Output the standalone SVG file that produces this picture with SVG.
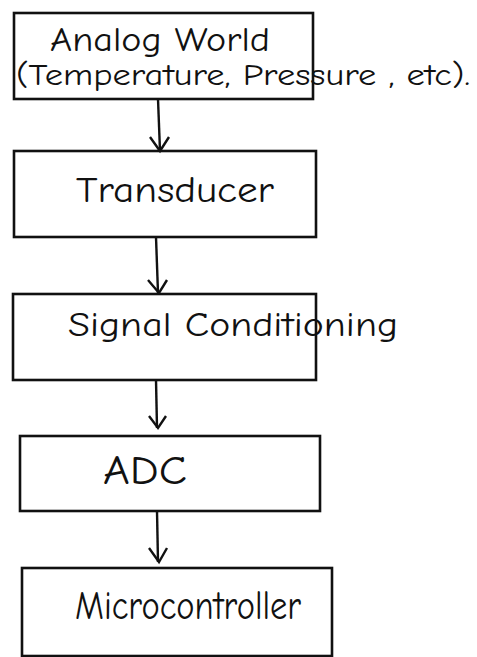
<svg xmlns="http://www.w3.org/2000/svg" width="477" height="657" viewBox="0 0 477 657">
<style>
.box{fill:none;stroke:#111;stroke-width:2.6}
.lbl{font-family:"Comic Neue","Liberation Sans",sans-serif;fill:#111}
.conn line{stroke:#111;stroke-width:2.4}
.conn path{fill:none;stroke:#111;stroke-width:2.4;stroke-linejoin:miter}
</style>
<rect width="477" height="657" fill="#ffffff"/>
<g id="analog-world">
<rect class="box" x="14" y="13" width="299" height="86"/>
<text class="lbl" x="50" y="51" font-size="34" textLength="220" lengthAdjust="spacingAndGlyphs">Analog  World</text>
<text class="lbl" x="16" y="85" font-size="30" textLength="454" lengthAdjust="spacingAndGlyphs">(Temperature, Pressure , etc).</text>
</g>
<g id="transducer">
<rect class="box" x="14" y="151" width="302" height="86"/>
<text class="lbl" x="76" y="202" font-size="36" textLength="198" lengthAdjust="spacingAndGlyphs">Transducer</text>
</g>
<g id="signal-conditioning">
<rect class="box" x="13" y="294" width="303" height="86"/>
<text class="lbl" x="68" y="336" font-size="34" textLength="330" lengthAdjust="spacingAndGlyphs">Signal  Conditioning</text>
</g>
<g id="adc">
<rect class="box" x="20" y="436" width="300" height="75"/>
<text class="lbl" x="103" y="484" font-size="40" textLength="84" lengthAdjust="spacingAndGlyphs">ADC</text>
</g>
<g id="microcontroller">
<rect class="box" x="22" y="568" width="310" height="88"/>
<text class="lbl" x="75" y="619" font-size="40" textLength="226" lengthAdjust="spacingAndGlyphs">Microcontroller</text>
</g>
<g class="conn" id="connectors">
<line x1="158" y1="99" x2="160" y2="151"/>
<path d="M150 137 L160 151 L169 137"/>
<line x1="156" y1="237" x2="158" y2="293"/>
<path d="M148 280 L159 293 L167 280"/>
<line x1="156" y1="380" x2="157" y2="428"/>
<path d="M149 416 L158 428 L166 416"/>
<line x1="157" y1="511" x2="158" y2="562"/>
<path d="M149 548 L159 562 L167 548"/>
</g>
</svg>
